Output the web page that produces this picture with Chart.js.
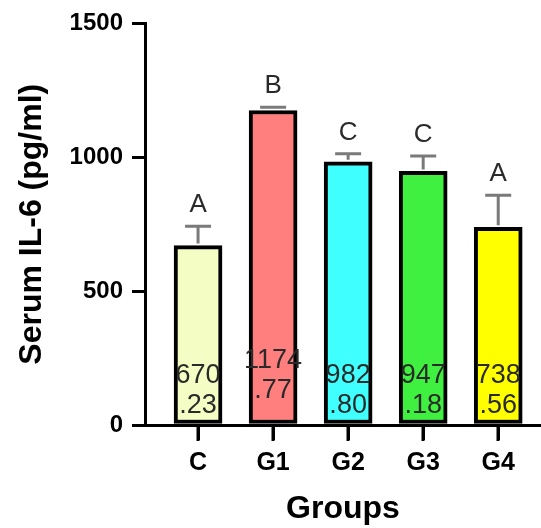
<!DOCTYPE html>
<html>
<head>
<meta charset="utf-8">
<script src="https://cdn.jsdelivr.net/npm/chart.js@4/dist/chart.umd.min.js"></script>
<style>
  html, body { margin: 0; padding: 0; background: #ffffff; }
  #wrap { width: 541px; height: 528px; }
</style>
</head>
<body>
<div id="wrap"><canvas id="chart" width="541" height="528"></canvas></div>
<script>
// Serum IL-6 by group: mean, SD (upper bar only) and significance letters
const categories = ['C', 'G1', 'G2', 'G3', 'G4'];
const meanValues = [670.23, 1174.77, 982.80, 947.18, 738.56];
const sdValues = [72, 12, 30, 58, 120];
const groupLetters = ['A', 'B', 'C', 'C', 'A'];
const barColors = ['#f4fec4', '#ff7f7f', '#40ffff', '#40f040', '#ffff00'];
const yTicks = [0, 500, 1000, 1500];

const FONT = 'Arial, "Liberation Sans", sans-serif';

// Draws category tick marks, SD whiskers, group letters and in-bar value labels
const annotations = {
  id: 'annotations',
  afterDraw(chart) {
    const ctx = chart.ctx;
    const xs = chart.scales.x, ys = chart.scales.y;
    const base = ys.getPixelForValue(0);
    ctx.save();

    // category tick marks under the x axis
    ctx.fillStyle = '#000000';
    categories.forEach((_, i) => {
      const px = Math.round(xs.getPixelForValue(i));
      ctx.fillRect(px - 1.5, base, 3, 16);
    });

    meanValues.forEach((v, i) => {
      const cx = xs.getPixelForValue(i);
      const top = ys.getPixelForValue(v);
      const capY = ys.getPixelForValue(v + sdValues[i]);

      // error bar
      ctx.strokeStyle = '#7a7a7a';
      ctx.lineWidth = 3;
      ctx.beginPath();
      ctx.moveTo(cx, top - 2);
      ctx.lineTo(cx, capY);
      ctx.moveTo(cx - 13, capY);
      ctx.lineTo(cx + 13, capY);
      ctx.stroke();

      // significance letter
      ctx.fillStyle = '#2a2a2a';
      ctx.font = '26px ' + FONT;
      ctx.textAlign = 'center';
      ctx.textBaseline = 'alphabetic';
      ctx.fillText(groupLetters[i], cx, capY - 14);

      // value label, split into two lines
      const parts = v.toFixed(2).split('.');
      const lift = i === 1 ? 15 : 0;
      ctx.font = '27px ' + FONT;
      ctx.fillText(parts[0], cx, base - 42 - lift);
      ctx.fillText('.' + parts[1], cx, base - 12 - lift);
    });
    ctx.restore();
  }
};

new Chart(document.getElementById('chart'), {
  type: 'bar',
  data: {
    datasets: [{
      data: meanValues.map((v, i) => ({ x: i, y: v })),
      backgroundColor: barColors,
      borderColor: '#000000',
      borderWidth: 4,
      borderSkipped: false,
      barThickness: 48
    }]
  },
  options: {
    responsive: false,
    animation: false,
    layout: { padding: { top: 21, right: 0, left: 0, bottom: 0 } },
    plugins: { legend: { display: false }, tooltip: { enabled: false } },
    scales: {
      x: {
        type: 'linear',
        min: -0.707,
        max: 4.57,
        offset: false,
        afterBuildTicks: s => { s.ticks = categories.map((_, i) => ({ value: i })); },
        afterFit: s => { s.height = 103; },
        grid: { offset: false, drawOnChartArea: false, drawTicks: true, color: '#000000', lineWidth: 3, tickLength: 15 },
        border: { color: '#000000', width: 3 },
        ticks: {
          color: '#000000',
          font: { family: FONT, size: 25, weight: 'bold' },
          padding: 8,
          maxRotation: 0,
          callback: v => categories[v]
        },
        title: {
          display: true,
          text: 'Groups',
          color: '#000000',
          font: { family: FONT, size: 32, weight: 'bold' },
          padding: { top: 0, bottom: 0 }
        }
      },
      y: {
        min: 0,
        max: 1500,
        afterBuildTicks: s => { s.ticks = yTicks.map(v => ({ value: v })); },
        afterFit: s => { s.width = 145; },
        grid: { drawOnChartArea: false, color: '#000000', lineWidth: 3, tickLength: 13 },
        border: { color: '#000000', width: 3 },
        ticks: {
          color: '#000000',
          font: { family: FONT, size: 24, weight: 'bold' },
          padding: 9,
          callback: v => String(v)
        },
        title: {
          display: true,
          text: 'Serum IL-6 (pg/ml)',
          color: '#000000',
          font: { family: FONT, size: 32, weight: 'bold' },
          padding: { top: 13, bottom: 0 }
        }
      }
    }
  },
  plugins: [annotations]
});
</script>
</body>
</html>
